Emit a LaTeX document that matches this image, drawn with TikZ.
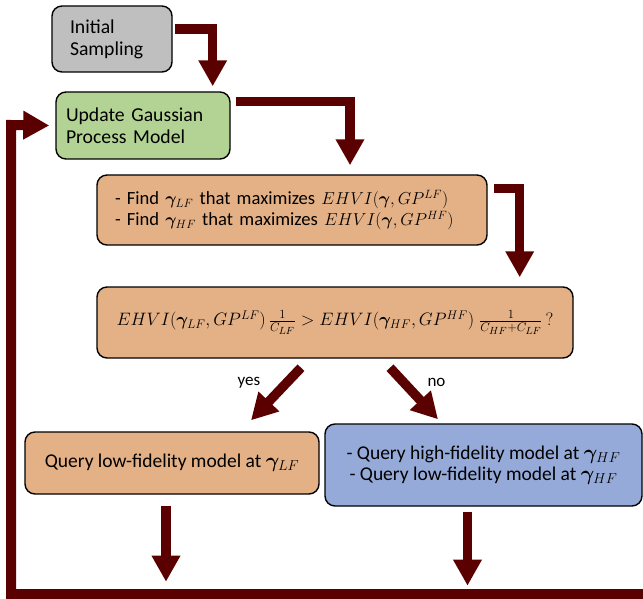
\documentclass[tikz,border=0pt]{standalone}
\usepackage{amsmath}
\usepackage{bm}
\usepackage{graphicx}
\usepackage{fontspec}
\setmainfont{Carlito}
\usetikzlibrary{arrows.meta}
\definecolor{boxgray}{HTML}{BFBFBF}
\definecolor{boxgreen}{HTML}{B3D394}
\definecolor{boxorange}{HTML}{E4B085}
\definecolor{boxblue}{HTML}{95AAD9}
\definecolor{flowred}{HTML}{5A0000}
% formulas at a size of their own
\newcommand\mth[2]{{\fontsize{#1}{21.5}\selectfont$#2$}}
\tikzset{
  box/.style={draw=black, line width=1.4pt, rounded corners=10pt, inner ysep=0pt,
    font=\fontsize{19.5}{21.5}\selectfont},
  flow/.style={draw=flowred, line width=9.5pt, line join=miter,
    -{Triangle[width=27pt,length=26pt]}},
  lbl/.style={font=\fontsize{17}{19}\selectfont, inner sep=0pt},
}
\begin{document}
\begin{tikzpicture}[x=1pt, y=-1pt]
\useasboundingbox (0,0) rectangle (643,599);

% boxes
\node[box, fill=boxgray, minimum height=66pt, inner xsep=18pt, text width=84pt, align=left,
  font=\fontsize{19.7}{22}\selectfont] (init) at (112,39) {Initial\\Sampling};
\node[box, fill=boxgreen, minimum height=67pt, inner xsep=10pt, text width=154pt, align=left,
  font=\fontsize{19.7}{22}\selectfont] (gp) at (143,125.5) {Update Gaussian\\Process Model};
\node[box, fill=boxorange, minimum height=70pt, inner xsep=18pt, text width=354pt, align=left,
  font=\fontsize{18.6}{21}\selectfont] (find) at (292,210)
  {- Find $\bm{\gamma}_{LF}$ that maximizes \mth{16.5}{EHVI(\bm{\gamma},GP^{LF})}\\
   - Find $\bm{\gamma}_{HF}$ that maximizes \mth{16.5}{EHVI(\bm{\gamma},GP^{HF})}};
\node[box, fill=boxorange, minimum height=71pt, minimum width=476pt, inner xsep=0pt] (ehvi) at (335,322.5)
  {\scalebox{1.04}{\mth{17.28}{EHVI(\bm{\gamma}_{LF},GP^{LF})\,\tfrac{1}{C_{LF}}>EHVI(\bm{\gamma}_{HF},GP^{HF})\;\tfrac{1}{C_{HF}+C_{LF}}\,?}}};
\node[box, fill=boxorange, minimum height=62pt, minimum width=294pt, inner xsep=0pt] (lf) at (172,463)
  {Query low-fidelity model at $\bm{\gamma}_{LF}$};
\node[box, fill=boxblue, minimum height=82pt, minimum width=317pt, inner xsep=0pt, align=center] (hf) at (483.5,465)
  {- Query high-fidelity model at $\bm{\gamma}_{HF}$\\- Query low-fidelity model at $\bm{\gamma}_{HF}$};

% branch labels
\node[lbl] (yes) at (249,383) {yes};
\node[lbl] (no) at (436.5,382) {no};

% return line along the bottom
\coordinate (ret) at (643,594);

% connectors
\draw[flow] ([xshift=2pt,yshift=10pt]init.east) -| ([xshift=-18pt,yshift=5pt]gp.north east);
\draw[flow] ([xshift=5pt,yshift=24pt]gp.east) -| ([xshift=58pt,yshift=9pt]find.north);
\draw[flow] ([xshift=6pt,yshift=21.5pt]find.east) -| ([xshift=-54pt,yshift=9pt]ehvi.north east);
\draw[flow] ([xshift=-34pt,yshift=-9pt]ehvi.south) -- ([xshift=79pt,yshift=11pt]lf.north);
\draw[flow] ([xshift=55pt,yshift=-9pt]ehvi.south) -- ([xshift=-45.5pt,yshift=4pt]hf.north);
\draw[flow] ([xshift=-6pt,yshift=-11pt]lf.south) -- ([xshift=-6pt,yshift=-87pt]lf.south);
\draw[flow] ([xshift=-16pt,yshift=-5pt]hf.south) -- ([xshift=-16pt,yshift=-79pt]hf.south);
\draw[flow, line width=10pt] (ret) -| (11,125) -- ([xshift=-6pt]gp.west);
\end{tikzpicture}
\end{document}
